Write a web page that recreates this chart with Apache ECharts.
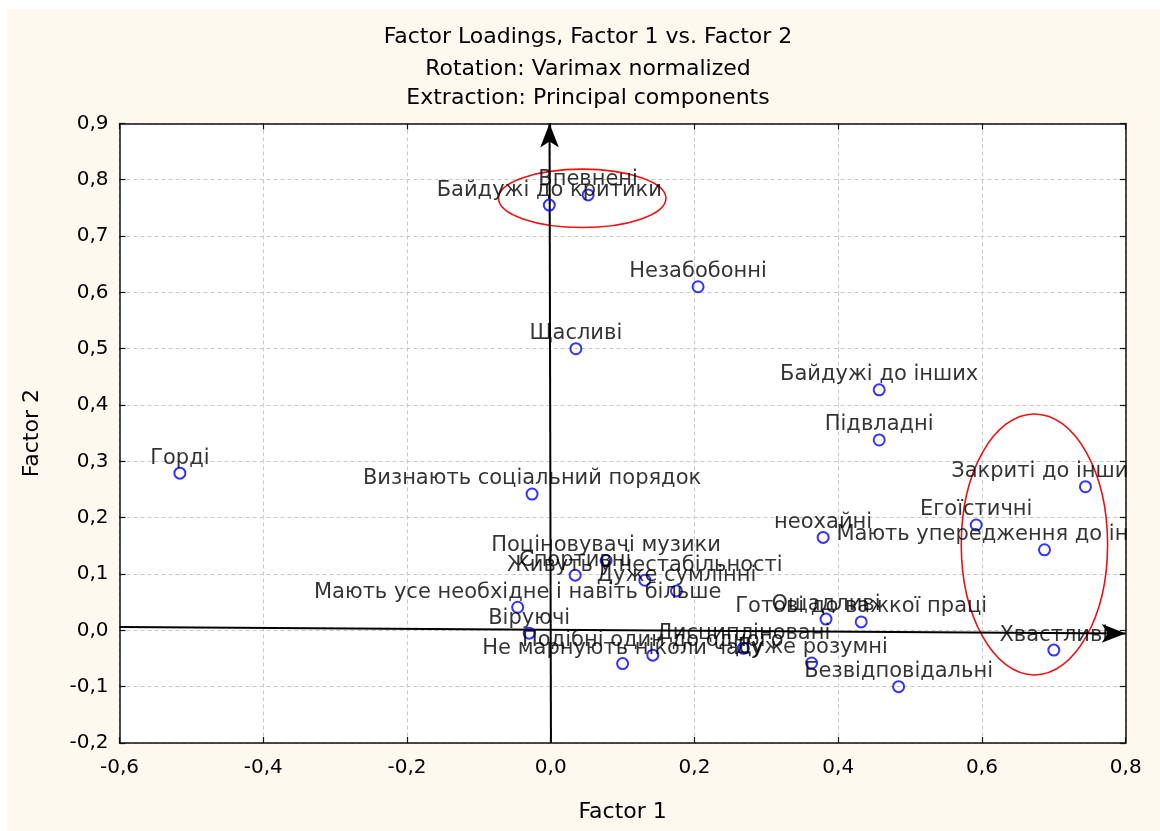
<!DOCTYPE html>
<html>
<head>
<meta charset="utf-8">
<script src="https://cdn.jsdelivr.net/npm/echarts@6/dist/echarts.min.js"></script>
<style>
html,body{margin:0;padding:0;background:#ffffff;}
#bg{position:absolute;left:7px;top:9px;width:1153px;height:822px;background:#fdf9ee;}
#chart{position:absolute;left:0;top:0;width:1160px;height:831px;}
</style>
</head>
<body>
<div id="bg"></div>
<div id="chart"></div>
<script>
// ---- data ----
const names = [
  'Горді', 'Байдужі до критики', 'Впевнені', 'Незабобонні', 'Щасливі',
  'Байдужі до інших', 'Підвладні', 'Закриті до інших людей', 'Егоїстичні',
  'Мають упередження до інших людей', 'неохайні', 'Визнають соціальний порядок',
  'Поціновувачі музики', 'Спортивні', 'Живуть у нестабільності', 'Дуже сумлінні',
  'Мають усе необхідне і навіть більше', 'Віруючі', 'Подібні один до одного',
  'Не марнують ніколи часу', 'Дисципліновані', 'Дуже розумні', 'Ощадливі',
  'Готові до важкої праці', 'Безвідповідальні', 'Хвастливі'
];
const factor1 = [
  -0.516, -0.002, 0.052, 0.205, 0.035,
  0.457, 0.457, 0.744, 0.592,
  0.687, 0.379, -0.026,
  0.077, 0.034, 0.131, 0.175,
  -0.046, -0.030, 0.142,
  0.100, 0.268, 0.363, 0.383,
  0.432, 0.484, 0.700
];
const factor2 = [
  0.279, 0.755, 0.773, 0.610, 0.500,
  0.427, 0.338, 0.255, 0.187,
  0.143, 0.165, 0.242,
  0.124, 0.098, 0.089, 0.070,
  0.041, -0.005, -0.044,
  -0.059, -0.032, -0.058, 0.020,
  0.015, -0.100, -0.035
];
const xTicks = { min: -0.6, max: 0.8, interval: 0.2 };
const yTicks = { min: -0.2, max: 0.9, interval: 0.1 };
const titleLines = ['Factor Loadings, Factor 1 vs. Factor 2', 'Rotation: Varimax normalized', 'Extraction: Principal components'];
const xName = 'Factor 1';
const yName = 'Factor 2';
// rotated-axis arrows (start, end) in data units
const arrowH = [[-0.6, 0.0058], [0.8, -0.0058]];
const arrowV = [[0.0003, -0.2], [-0.0017, 0.9]];
// highlight ellipses: [centerX, centerY, radiusX, radiusY] in data units
const ellipses = [[0.0438, 0.767, 0.1165, 0.0518], [0.673, 0.1525, 0.1018, 0.2317]];

// ---- chart ----
const FONT = 'DejaVu Sans';
const CREAM = '#fdf9ee';
const fmt = v => (Math.abs(v) < 1e-9 ? 0 : v).toFixed(1).replace('.', ',');
const points = names.map((n, i) => ({ name: n, value: [factor1[i], factor2[i]] }));

const chart = echarts.init(document.getElementById('chart'), null, { renderer: 'canvas' });
const axisCommon = {
  type: 'value',
  axisLine: { show: true, onZero: false, lineStyle: { color: '#111', width: 1.5 } },
  axisTick: { show: true, inside: true, length: 6, lineStyle: { color: '#111', width: 1.2 } },
};
chart.setOption({
  backgroundColor: 'transparent',
  animation: false,
  title: titleLines.map((t, i) => ({
    text: t, left: 588, textAlign: 'center', top: [26, 58, 87][i], padding: 0,
    textStyle: { fontFamily: FONT, fontSize: 22, fontWeight: 'normal', color: '#000' }
  })),
  grid: { left: 119.5, right: 34.3, top: 123.4, bottom: 88, show: true, backgroundColor: '#ffffff', borderWidth: 0 },
  xAxis: [
    Object.assign({}, axisCommon, {
      position: 'bottom', min: xTicks.min, max: xTicks.max, interval: xTicks.interval,
      name: xName, nameLocation: 'middle', nameGap: 58,
      nameTextStyle: { fontFamily: FONT, fontSize: 22, color: '#000' },
      axisLabel: { formatter: fmt, margin: 15, fontFamily: FONT, fontSize: 20, color: '#000' },
      splitLine: { show: true, lineStyle: { color: '#c8c8c8', type: [4, 3], width: 1 } }
    }),
    Object.assign({}, axisCommon, {
      position: 'top', min: xTicks.min, max: xTicks.max, interval: xTicks.interval,
      axisLabel: { show: false }, splitLine: { show: false }
    })
  ],
  yAxis: [
    Object.assign({}, axisCommon, {
      position: 'left', min: yTicks.min, max: yTicks.max, interval: yTicks.interval,
      name: yName, nameLocation: 'middle', nameGap: 76, nameRotate: 90,
      nameTextStyle: { fontFamily: FONT, fontSize: 22, color: '#000' },
      axisLabel: { formatter: fmt, margin: 11, fontFamily: FONT, fontSize: 20, color: '#000' },
      splitLine: { show: true, lineStyle: { color: '#c8c8c8', type: [4, 3], width: 1 } }
    }),
    Object.assign({}, axisCommon, {
      position: 'right', min: yTicks.min, max: yTicks.max, interval: yTicks.interval,
      axisLabel: { show: false }, splitLine: { show: false }
    })
  ],
  graphic: [
    { type: 'rect', z: 100, shape: { x: 1127, y: 110, width: 40, height: 630 }, style: { fill: CREAM } }
  ],
  series: [
    {
      type: 'scatter', name: 'arrows', data: [], silent: true, z: 3,
      markLine: {
        silent: true, animation: false,
        symbol: ['none', 'arrow'], symbolSize: [14, 24],
        label: { show: false },
        lineStyle: { color: '#000', width: 2, type: 'solid' },
        data: [
          [{ coord: arrowH[0] }, { coord: arrowH[1] }],
          [{ coord: arrowV[0] }, { coord: arrowV[1] }]
        ]
      }
    },
    {
      type: 'custom', name: 'ellipses', data: ellipses, silent: true, z: 4,
      renderItem: function (params, api) {
        const c = api.coord([api.value(0), api.value(1)]);
        const s = api.size([api.value(2), api.value(3)]);
        return {
          type: 'ellipse',
          shape: { cx: c[0], cy: c[1], rx: s[0], ry: s[1] },
          style: { fill: 'none', stroke: '#ee1111', lineWidth: 1.6 }
        };
      }
    },
    {
      type: 'scatter', name: 'loadings', data: points, z: 5,
      symbol: 'circle', symbolSize: 11,
      itemStyle: { color: 'rgba(255,255,255,0)', borderColor: '#0000ff', borderWidth: 2 },
      label: {
        show: true, position: 'top', distance: -2,
        formatter: p => p.name,
        fontFamily: FONT, fontSize: 21, color: '#000'
      },
      labelLayout: { hideOverlap: false }
    }
  ]
});
</script>
</body>
</html>
